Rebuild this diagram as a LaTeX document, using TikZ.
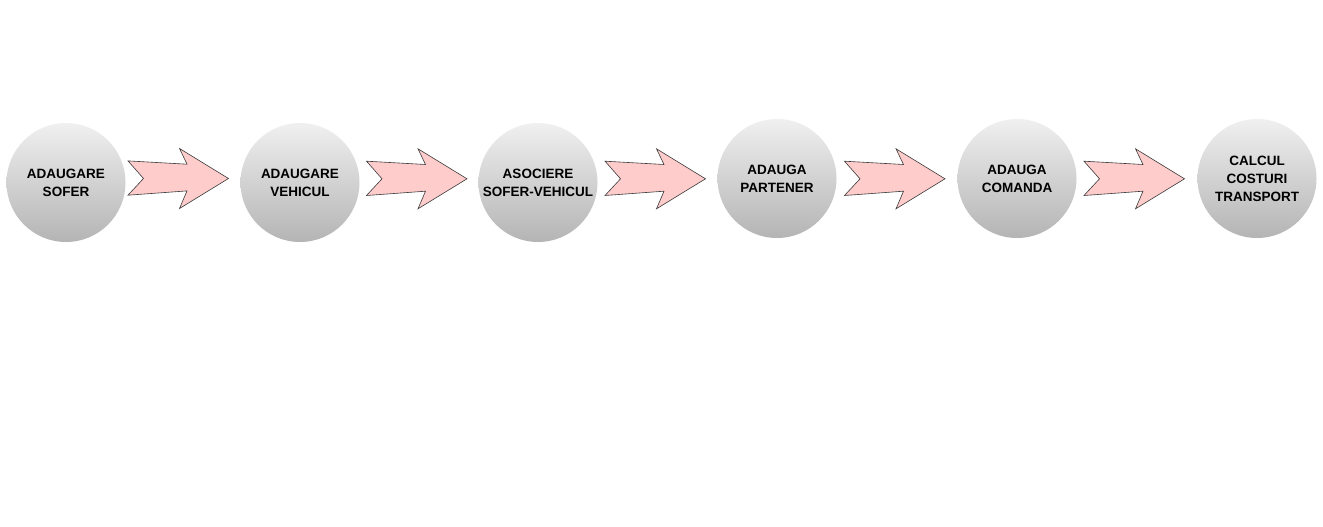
\documentclass[tikz,border=0pt]{standalone}
\usepackage{fontspec}
\setmainfont{Liberation Sans}
\definecolor{circtop}{HTML}{F0F0F0}
\definecolor{circbot}{HTML}{B4B4B4}
\definecolor{arrfill}{HTML}{FFCCCC}
\definecolor{arrline}{HTML}{3A3A3A}
\tikzset{
  stepcircle/.style={circle, minimum size=119pt, inner sep=0pt, top color=circtop, bottom color=circbot, draw=none,
    align=center, font=\fontsize{13.5}{18}\selectfont\bfseries, text=black},
  arrowshape/.style={fill=arrfill, draw=arrline, line width=0.6pt, line join=miter},
  pics/chev/.style={code={
    \draw[arrowshape] (0,-17.6) -- (59,-14.3) -- (51.5,-30) -- (100.5,0) -- (51.5,30) -- (59,12.4) -- (0,16.7) -- (15.5,0) -- cycle;
  }}
}
\begin{document}
\begin{tikzpicture}[x=1pt,y=-1pt]
\useasboundingbox[fill=white] (0,0) rectangle (1323,527);
\node[stepcircle] (c1) at (66,182.5) {ADAUGARE\\SOFER};
\node[stepcircle] (c2) at (300,182.5) {ADAUGARE\\VEHICUL};
\node[stepcircle] (c3) at (538,182.5) {ASOCIERE\\SOFER-VEHICUL};
\node[stepcircle] (c4) at (777,178.5) {ADAUGA\\PARTENER};
\node[stepcircle] (c5) at (1017,178.5) {ADAUGA\\COMANDA};
\node[stepcircle] (c6) at (1257,178.5) {CALCUL\\COSTURI\\TRANSPORT};
\pic at (128,178.5) {chev};
\pic at (366.5,178.8) {chev};
\pic at (605,178.8) {chev};
\pic at (844.5,178.8) {chev};
\pic at (1084,178.8) {chev};
\end{tikzpicture}
\end{document}
